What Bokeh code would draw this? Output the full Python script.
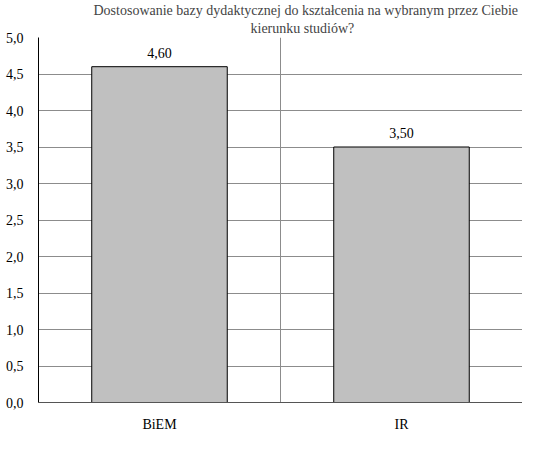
from bokeh.plotting import figure
from bokeh.models import Range1d, FixedTicker, CustomJSTickFormatter, Title, LabelSet, ColumnDataSource
from bokeh.embed import file_html
from bokeh.resources import INLINE

categories = ["BiEM", "IR"]
values = [4.60, 3.50]
value_labels = ["4,60", "3,50"]
y_ticks = [0, 0.5, 1, 1.5, 2, 2.5, 3, 3.5, 4, 4.5, 5]

FONT = "Liberation Serif"
xs = [i + 0.5 for i in range(len(categories))]

p = figure(width=522, height=434, output_backend="svg", toolbar_location=None,
           x_range=Range1d(0, len(categories)), y_range=Range1d(0, 5),
           min_border_left=38, min_border_right=0, min_border_bottom=24, min_border_top=0)
p.background_fill_color = "white"
p.outline_line_color = None

src = ColumnDataSource(dict(x=xs, top=values, lab=value_labels))
p.vbar(x="x", top="top", width=0.56, bottom=0, source=src,
       fill_color="#c0c0c0", line_color="black", line_width=1)

p.add_layout(LabelSet(x="x", y="top", text="lab", source=src, text_align="center",
                      text_baseline="bottom", y_offset=9, text_font=FONT,
                      text_font_size="14px", text_color="black"))

# axes
p.yaxis.ticker = FixedTicker(ticks=y_ticks)
p.yaxis.formatter = CustomJSTickFormatter(code="return tick.toFixed(1).replace('.', ',');")
p.yaxis.major_tick_line_color = None
p.yaxis.minor_tick_line_color = None
p.yaxis.axis_line_color = "black"
p.yaxis.major_label_standoff = 9
p.yaxis.major_label_text_font = FONT
p.yaxis.major_label_text_font_size = "14px"
p.yaxis.major_label_text_color = "black"

p.xaxis.ticker = FixedTicker(ticks=xs)
p.xaxis.major_label_overrides = {x: c for x, c in zip(xs, categories)}
p.xaxis.major_tick_line_color = None
p.xaxis.minor_tick_line_color = None
p.xaxis.axis_line_color = "#555555"
p.xaxis.major_label_standoff = 8
p.xaxis.major_label_text_font = FONT
p.xaxis.major_label_text_font_size = "14px"
p.xaxis.major_label_text_color = "black"

p.ygrid.ticker = FixedTicker(ticks=y_ticks)
p.ygrid.grid_line_color = "#8c8c8c"
p.xgrid.ticker = FixedTicker(ticks=[1])
p.xgrid.grid_line_color = "#8c8c8c"

p.add_layout(Title(text="kierunku studiów?", align="left", offset=212,
                   text_font=FONT, text_font_size="14px", text_font_style="normal",
                   standoff=3), "above")
p.add_layout(Title(text="Dostosowanie bazy dydaktycznej do kształcenia na wybranym przez Ciebie",
                   align="left", offset=55, text_font=FONT, text_font_size="14px",
                   text_font_style="normal", standoff=0), "above")

open("out.html", "w").write(file_html(p, INLINE))
